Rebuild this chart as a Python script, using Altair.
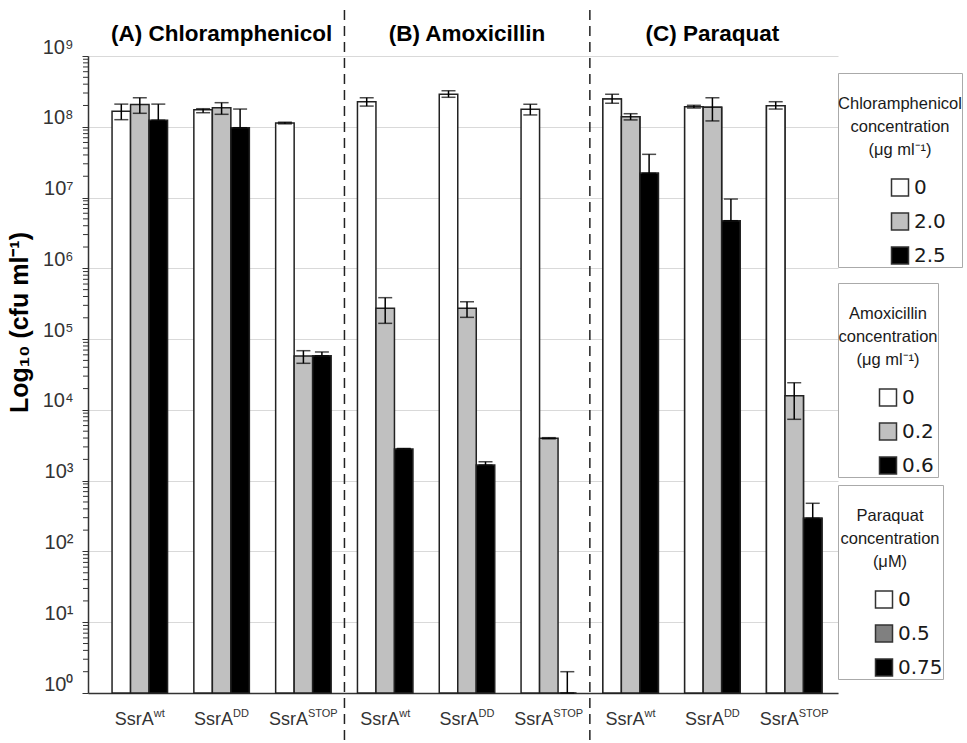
import altair as alt
import pandas as pd

# ---------------- data ----------------
panels = ["A", "B", "C"]
panel_titles = ["(A) Chloramphenicol", "(B) Amoxicillin", "(C) Paraquat"]
variants = ["wt", "DD", "STOP"]
levels = [0, 1, 2]

conc_A = ["0", "2.0", "2.5"]
conc_B = ["0", "0.2", "0.6"]
conc_C = ["0", "0.5", "0.75"]

legend_A = ["", "Chloramphenicol", "concentration", "(μg ml⁻¹)"]
legend_B = ["", "Amoxicillin", "concentration", "(μg ml⁻¹)"]
legend_C = ["", "Paraquat", "concentration", "(μM)"]

# rows: SsrA wt, DD, STOP ; columns: concentration level 0,1,2 (cfu/ml)
val_A = [[1.66e8, 2.07e8, 1.24e8], [1.74e8, 1.86e8, 9.7e7], [1.13e8, 5.77e4, 5.82e4]]
lo_A = [[1.26e8, 1.55e8, 1.24e8], [1.58e8, 1.50e8, 9.7e7], [1.10e8, 4.55e4, 5.82e4]]
hi_A = [[2.09e8, 2.57e8, 2.09e8], [1.80e8, 2.19e8, 1.78e8], [1.16e8, 6.86e4, 6.58e4]]

val_B = [[2.26e8, 2.72e5, 2.80e3], [2.88e8, 2.72e5, 1.66e3], [1.77e8, 3.97e3, 1.0]]
lo_B = [[1.96e8, 1.67e5, 2.80e3], [2.61e8, 2.03e5, 1.66e3], [1.47e8, 3.90e3, 1.0]]
hi_B = [[2.57e8, 3.85e5, 2.85e3], [3.23e8, 3.37e5, 1.85e3], [2.08e8, 4.05e3, 2.0]]

val_C = [[2.47e8, 1.39e8, 2.20e7], [1.92e8, 1.88e8, 4.71e6], [1.99e8, 1.59e4, 294.0]]
lo_C = [[2.15e8, 1.25e8, 2.20e7], [1.84e8, 1.21e8, 4.71e6], [1.78e8, 7.36e3, 294.0]]
hi_C = [[2.88e8, 1.53e8, 4.08e7], [2.01e8, 2.57e8, 9.53e6], [2.26e8, 2.42e4, 479.0]]

fill_colors = ["#ffffff", "#c0c0c0", "#000000"]
legend_colors = {"A": fill_colors, "B": fill_colors, "C": ["#ffffff", "#808080", "#000000"]}
legend_pos = {"A": (750, 17), "B": (750, 227), "C": (750, 429)}
decades = [10 ** e for e in range(0, 10)]
minor_ticks = [m * 10 ** e for e in range(0, 9) for m in range(2, 10)]

# ---------------- tables ----------------
keys = [f"{p}-{v}" for p in panels for v in variants]
panel_data = {
    "A": (conc_A, legend_A, val_A, lo_A, hi_A),
    "B": (conc_B, legend_B, val_B, lo_B, hi_B),
    "C": (conc_C, legend_C, val_C, lo_C, hi_C),
}

rows = []
for p in panels:
    conc, _, val, lo, hi = panel_data[p]
    for i, v in enumerate(variants):
        for j in levels:
            rows.append(dict(panel=p, key=f"{p}-{v}", variant=v, level=j,
                             conc=conc[j], value=val[i][j], lo=lo[i][j], hi=hi[i][j]))
df = pd.DataFrame(rows)

x_scale = alt.Scale(domain=keys, paddingInner=0.3215, paddingOuter=0.245, align=0.6)


def xenc(**kw):
    return alt.X("key:N", scale=x_scale, sort=keys,
                 axis=alt.Axis(labels=False, ticks=False, title=None, grid=False,
                               domainColor="#333333", domainWidth=1.5), **kw)


xoff = alt.XOffset("level:N", scale=alt.Scale(paddingInner=0, paddingOuter=0))
y_scale = alt.Scale(type="log", domain=[1, 1e9], nice=False)
y_axis = alt.Axis(
    values=decades, grid=True, gridColor="#d9d9d9", gridWidth=1,
    labelExpr="'10' + substring('⁰¹²³⁴⁵⁶⁷⁸⁹', round(log(datum.value)/LN10), round(log(datum.value)/LN10)+1)",
    labelFont="Liberation Sans", labelFontSize=20, labelColor="#333333",
    labelBaseline="alphabetic", labelOffset=-3, labelPadding=9,
    tickSize=6, tickColor="#333333", domainColor="#333333", domainWidth=1.5,
    title="Log₁₀ (cfu ml⁻¹)", titleFont="Liberation Sans", titleFontSize=25,
    titleFontWeight="bold", titleColor="#000000", titleAngle=270,
    titleBaseline="bottom", titleAlign="center", titleX=-56, titleY=266,
)


def yenc(field):
    return alt.Y(field, scale=y_scale, axis=y_axis, stack=None)


layers = []

# bars, one layer per panel so each panel gets its own legend
for p in panels:
    conc, ltitle, *_ = panel_data[p]
    lx, ly = legend_pos[p]
    layers.append(
        alt.Chart(df[df.panel == p]).mark_bar(stroke="#222222", strokeWidth=1.5).encode(
            x=xenc(), xOffset=xoff, y=yenc("value:Q"),
            fill=alt.Fill("conc:N", scale=alt.Scale(domain=conc, range=legend_colors[p]),
                          legend=alt.Legend(title=ltitle, orient="none", legendX=lx, legendY=ly)),
        )
    )
# panel C bars are light grey although its legend swatch is darker
layers.append(
    alt.Chart(df[df.panel == "C"]).mark_bar(stroke="#222222", strokeWidth=1.5).encode(
        x=xenc(), xOffset=xoff, y=yenc("value:Q"),
        fill=alt.Fill("conc:N", scale=alt.Scale(domain=conc_C, range=fill_colors), legend=None),
    )
)

# error bars
err = alt.Chart(df)
layers.append(err.mark_rule(color="#000000", strokeWidth=1.5).encode(
    x=xenc(), xOffset=xoff, y=yenc("lo:Q"), y2="hi:Q"))
layers.append(err.mark_tick(color="#000000", thickness=1.5, size=14).encode(
    x=xenc(), xOffset=xoff, y=yenc("hi:Q")))
layers.append(err.mark_tick(color="#000000", thickness=1.5, size=14).encode(
    x=xenc(), xOffset=xoff, y=yenc("lo:Q")))

# minor ticks on the log axis
minor_df = pd.DataFrame({"v": minor_ticks})
layers.append(alt.Chart(minor_df).mark_rule(color="#333333", strokeWidth=1).encode(
    y=yenc("v:Q"), x=alt.value(-5), x2=alt.value(0)))

# dashed panel separators (in the gap before the first group of panels B and C)
sep_df = pd.DataFrame({"key": ["B-wt", "C-wt"]})
layers.append(alt.Chart(sep_df).mark_rule(color="#222222", strokeWidth=1.5, strokeDash=[10, 6]).encode(
    x=xenc(bandPosition=0), xOffset=alt.value(-13), y=alt.value(-46), y2=alt.value(687)))

# panel titles
title_df = pd.DataFrame({"key": [f"{p}-DD" for p in panels], "t": panel_titles})
layers.append(alt.Chart(title_df).mark_text(
    font="Liberation Sans", fontSize=22.5, fontWeight="bold", color="#000000",
    baseline="alphabetic", align="center").encode(
    x=xenc(), y=alt.value(-15), text="t:N"))

# x category labels: "SsrA" + superscript variant
sup_width = {"wt": 11, "DD": 16, "STOP": 30}
lab_df = pd.DataFrame({"key": keys, "variant": [v for p in panels for v in variants],
                       "base": ["SsrA"] * len(keys)})
for v in variants:
    d = lab_df[lab_df.variant == v]
    off = (39 - sup_width[v]) / 2
    layers.append(alt.Chart(d).mark_text(
        font="Liberation Sans", fontSize=18, color="#333333", align="right",
        baseline="alphabetic", dx=off).encode(x=xenc(), y=alt.value(669), text="base:N"))
    layers.append(alt.Chart(d).mark_text(
        font="Liberation Sans", fontSize=11, color="#333333", align="left",
        baseline="alphabetic", dx=off, dy=-8).encode(x=xenc(), y=alt.value(669), text="variant:N"))

chart = alt.layer(*layers).resolve_scale(fill="independent").properties(
    width=750, height=637,
    padding={"left": 88, "top": 56, "right": 129, "bottom": 50},
    autosize=alt.AutoSizeParams(type="none"),
    background="#ffffff",
).configure_view(strokeWidth=0).configure_legend(
    titleFont="Liberation Sans", titleFontSize=16.5, titleFontWeight="normal",
    titleColor="#1a1a1a", titleAlign="center", titleAnchor="middle", titleLineHeight=23,
    titlePadding=19, labelFont="DejaVu Sans", labelFontSize=20, labelColor="#1a1a1a",
    symbolType="square", symbolSize=289, symbolStrokeColor="#333333", symbolStrokeWidth=1.5,
    strokeColor="#aaaaaa", padding=0, rowPadding=10, symbolOffset=36,
    labelOffset=4, fillColor="#ffffff",
)

chart.save("out.html", embed_options={"renderer": "svg", "actions": False})
